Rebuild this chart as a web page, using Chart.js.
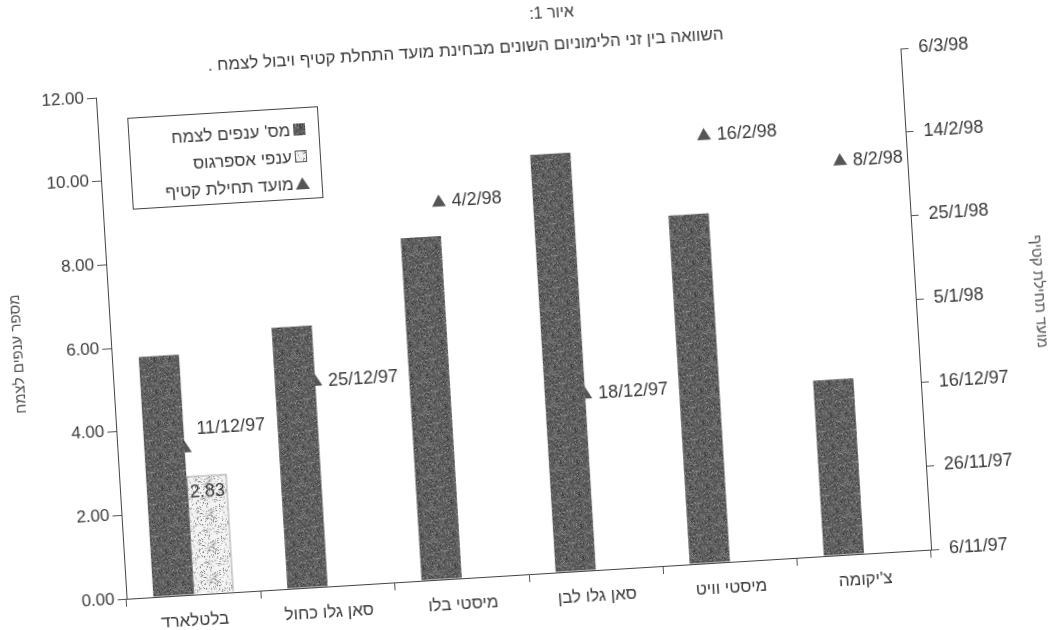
<!DOCTYPE html>
<html lang="he">
<head>
<meta charset="utf-8">
<title>איור 1</title>
<script src="https://cdn.jsdelivr.net/npm/chart.js@4.4.1/dist/chart.umd.min.js"></script>
<style>
  html, body { margin: 0; padding: 0; background: #fff; overflow: hidden; }
  /* the scanned original sits a little crooked on the page */
  #wrap { width: 1048px; height: 630px; transform: rotate(-3.5deg); transform-origin: 50% 50%; }
</style>
</head>
<body>
<div id="wrap"><canvas id="chart" width="1048" height="630"></canvas></div>
<script>
const categories = ['בלטלארד', 'סאן גלו כחול', 'מיסטי בלו', 'סאן גלו לבן', 'מיסטי וויט', "צ'יקומה"];
const branchesPerPlant = [5.75, 6.25, 8.2, 10.0, 8.35, 4.2];
const asparagusBranches = [2.83, null, null, null, null, null];
const harvestStart = ['11/12/97', '25/12/97', '4/2/98', '18/12/97', '16/2/98', '8/2/98'];
const dateAxisRange = ['6/11/97', '6/3/98'];
const dateStepDays = 20;

const seriesNames = ["מס' ענפים לצמח", 'ענפי אספרגוס', 'מועד תחילת קטיף'];
const titleLines = ['איור 1:', 'השוואה בין זני הלימוניום השונים מבחינת מועד התחלת קטיף ויבול לצמח .'];

const FONT = "'Liberation Sans', Arial, 'DejaVu Sans', sans-serif";
const INK = '#3a3a3a';

// d/m/yy -> whole days since epoch
function toDay(s) {
  const [d, m, y] = s.split('/').map(Number);
  return Date.UTC(1900 + y, m - 1, d) / 86400000;
}
function fromDay(v) {
  const dt = new Date(Math.round(v) * 86400000);
  return dt.getUTCDate() + '/' + (dt.getUTCMonth() + 1) + '/' + (dt.getUTCFullYear() % 100);
}
// force right-to-left reading order for a line of text
const rtl = s => '\u202B' + s + '\u202C';

// grainy fills like the photocopy
function grain(base, speck, amount, seed) {
  const c = document.createElement('canvas');
  c.width = c.height = 32;
  const g = c.getContext('2d');
  g.fillStyle = base;
  g.fillRect(0, 0, 32, 32);
  let s = seed;
  const next = () => (s = (s * 1103515245 + 12345) % 2147483648) / 2147483648;
  for (let i = 0; i < amount; i++) {
    g.fillStyle = speck[Math.floor(next() * speck.length)];
    g.fillRect(Math.floor(next() * 32), Math.floor(next() * 32), 1, 1);
  }
  return c;
}
const darkFill = grain('#606060', ['#8a8a8a', '#454545', '#777', '#3c3c3c'], 420, 7);
const lightFill = grain('#f2f2f2', ['#9a9a9a', '#bbb', '#777', '#fff'], 300, 3);

const ctx = document.getElementById('chart').getContext('2d');
const darkPattern = ctx.createPattern(darkFill, 'repeat');
const lightPattern = ctx.createPattern(lightFill, 'repeat');

const labelNudge = [-19, 0, 0, 0, 0, 0]; // first date label was lifted in the original

const decorations = {
  id: 'decorations',
  afterDatasetsDraw(chart) {
    const c = chart.ctx;
    c.save();
    c.font = '18px ' + FONT;
    c.fillStyle = INK;
    c.textBaseline = 'middle';
    c.textAlign = 'left';
    chart.getDatasetMeta(2).data.forEach((pt, i) => {
      c.fillText(harvestStart[i], pt.x + 13, pt.y + labelNudge[i]);
    });
    c.textAlign = 'center';
    chart.getDatasetMeta(1).data.forEach((bar, i) => {
      if (asparagusBranches[i] == null) return;
      c.fillText(asparagusBranches[i].toFixed(2), bar.x, bar.y + 16);
    });
    c.restore();
  },
  afterDraw(chart) {
    const c = chart.ctx;
    const area = chart.chartArea;
    c.save();
    c.fillStyle = INK;
    c.textBaseline = 'middle';
    c.textAlign = 'center';
    c.font = '16px ' + FONT;
    c.fillText(rtl(titleLines[0]), 570, 16);
    c.font = '17px ' + FONT;
    c.fillText(rtl(titleLines[1]), 482, 47);

    // legend box inside the plot
    const lx = area.left + 30, ly = area.top + 22, lw = 190, lh = 91;
    c.strokeStyle = '#444';
    c.lineWidth = 1;
    c.strokeRect(lx + 0.5, ly + 0.5, lw, lh);
    c.font = '17px ' + FONT;
    c.textAlign = 'right';
    seriesNames.forEach((name, i) => {
      const cy = ly + 22 + i * 27;
      const sx = lx + lw - 25;
      if (i === 0) {
        c.fillStyle = darkPattern;
        c.fillRect(sx, cy - 6, 12, 12);
      } else if (i === 1) {
        c.fillStyle = lightPattern;
        c.fillRect(sx, cy - 6, 12, 12);
        c.strokeStyle = '#555';
        c.strokeRect(sx + 0.5, cy - 5.5, 11, 11);
      } else {
        c.fillStyle = '#555';
        c.beginPath();
        c.moveTo(sx + 6, cy - 6);
        c.lineTo(sx + 13, cy + 6);
        c.lineTo(sx - 1, cy + 6);
        c.closePath();
        c.fill();
      }
      c.fillStyle = INK;
      c.fillText(rtl(name), sx - 3, cy + 1);
    });
    c.restore();
  }
};

const axisGrid = { display: true, drawOnChartArea: false, color: '#555', tickLength: 8 };
const axisBorder = { display: true, color: '#444', width: 1 };

new Chart(ctx, {
  data: {
    labels: categories,
    datasets: [
      {
        type: 'bar',
        label: seriesNames[0],
        data: branchesPerPlant,
        backgroundColor: darkPattern,
        borderWidth: 0,
        order: 0
      },
      {
        type: 'bar',
        label: seriesNames[1],
        data: asparagusBranches,
        backgroundColor: lightPattern,
        borderColor: '#555',
        borderWidth: 1,
        order: 0
      },
      {
        type: 'line',
        label: seriesNames[2],
        data: harvestStart.map(toDay),
        yAxisID: 'y1',
        showLine: false,
        pointStyle: 'triangle',
        pointRadius: 8,
        backgroundColor: '#555',
        borderColor: '#555',
        borderWidth: 0,
        order: 1
      }
    ]
  },
  options: {
    responsive: false,
    animation: false,
    layout: { padding: { top: 72, left: 0, right: 0, bottom: 0 } },
    datasets: { bar: { categoryPercentage: 0.6, barPercentage: 1.0 } },
    plugins: {
      legend: { display: false },
      tooltip: { enabled: false },
      title: { display: false }
    },
    scales: {
      x: {
        grid: axisGrid,
        border: axisBorder,
        ticks: { color: INK, font: { family: FONT, size: 17 }, padding: 8, maxRotation: 0 },
        afterFit: s => { s.height = 56; }
      },
      y: {
        position: 'left',
        min: 0,
        max: 12,
        grid: { ...axisGrid, tickLength: 9 },
        border: axisBorder,
        ticks: { stepSize: 2, color: INK, font: { family: FONT, size: 17 }, padding: 3,
                 callback: v => Number(v).toFixed(2) },
        title: { display: true, text: 'מספר ענפים לצמח', color: '#555', font: { family: FONT, size: 15 },
                 padding: { top: 8, bottom: 4 } },
        afterFit: s => { s.width = 110; }
      },
      y1: {
        position: 'right',
        min: toDay(dateAxisRange[0]),
        max: toDay(dateAxisRange[1]),
        grid: axisGrid,
        border: axisBorder,
        ticks: { stepSize: dateStepDays, color: INK, font: { family: FONT, size: 18 }, padding: 10,
                 callback: v => fromDay(v) },
        title: { display: true, text: 'מועד תחילת קטיף', color: '#555', font: { family: FONT, size: 15 },
                 padding: { top: 0, bottom: 0 } },
        afterFit: s => { s.width = 132; }
      }
    }
  },
  plugins: [decorations]
});
</script>
</body>
</html>
